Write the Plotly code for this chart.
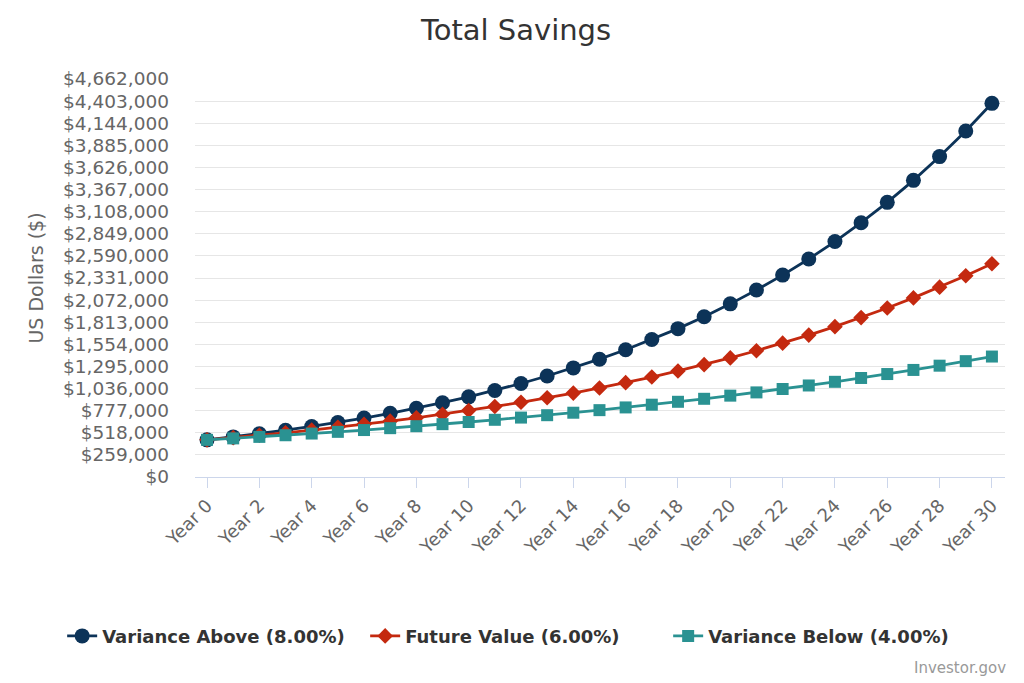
import plotly.graph_objects as go

years = [f"Year {i}" for i in range(31)]

variance_above = [435000, 469800, 507000, 548000, 592000, 639000, 690000, 746000, 805000, 870000,
                  939000, 1014000, 1095000, 1183000, 1278000, 1380000, 1490000, 1610000, 1738000, 1877000,
                  2028000, 2190000, 2365000, 2554000, 2758000, 2979000, 3217000, 3475000, 3753000, 4053000,
                  4377000]
future_value = [435000, 461100, 489000, 518000, 549000, 582000, 617000, 654000, 693000, 735000,
                779000, 826000, 875000, 928000, 983000, 1043000, 1105000, 1171000, 1242000, 1316000,
                1395000, 1479000, 1568000, 1662000, 1761000, 1867000, 1979000, 2098000, 2224000, 2357000,
                2498000]
variance_below = [435000, 452400, 470000, 489000, 509000, 529000, 550000, 572000, 595000, 619000,
                  644000, 670000, 696000, 724000, 753000, 783000, 815000, 847000, 881000, 916000,
                  953000, 991000, 1031000, 1072000, 1115000, 1160000, 1206000, 1254000, 1304000, 1357000,
                  1411000]

y_ticks = [i * 259000 for i in range(19)]
y_ticktext = [f"${v:,}" for v in y_ticks]
x_tickvals = years[::2]

series = [
    ("Variance Above (8.00%)", variance_above, "#0c3358", "circle", 15),
    ("Future Value (6.00%)", future_value, "#c4290f", "diamond", 12),
    ("Variance Below (4.00%)", variance_below, "#2a9292", "square", 12),
]

fig = go.Figure()
for name, vals, color, sym, size in series:
    fig.add_trace(go.Scatter(
        x=years, y=vals, name=name, mode="lines+markers",
        line=dict(color=color, width=2.8),
        marker=dict(symbol=sym, size=size, color=color, line=dict(width=0)),
    ))

fig.update_layout(
    width=1016, height=675,
    paper_bgcolor="white", plot_bgcolor="white",
    margin=dict(l=187, r=19, t=71, b=206, autoexpand=False),
    font=dict(family="DejaVu Sans", color="#666666"),
    title=dict(text="Total Savings", x=0.5, xanchor="center", y=0.967, yanchor="middle",
               font=dict(family="DejaVu Sans", size=29, color="#333333")),
    showlegend=True,
    legend=dict(orientation="h", x=-0.164, xanchor="left", y=-0.4, yanchor="middle",
                font=dict(family="DejaVu Sans", size=18, color="#333333", weight="bold"),
                itemwidth=30, entrywidth=258, traceorder="normal"),
    xaxis=dict(
        type="category", range=[-0.46, 30.5],
        tickmode="array", tickvals=x_tickvals, ticktext=x_tickvals,
        tickangle=-45, tickfont=dict(size=18, color="#666666"),
        showgrid=False, showline=True, linecolor="#ccd6eb", linewidth=1,
        ticks="outside", ticklen=10, tickcolor="#ccd6eb",
        zeroline=False,
    ),
    yaxis=dict(
        range=[0, 4662000], tickmode="array", tickvals=y_ticks, ticktext=y_ticktext,
        tickfont=dict(size=18.5, color="#666666"),
        showgrid=True, gridcolor="#e6e6e6", gridwidth=1,
        zeroline=False, showline=False, ticks="", ticklabelstandoff=25,
        title=dict(text="US Dollars ($)", font=dict(size=19, color="#666666"), standoff=14),
    ),
    annotations=[dict(text="Investor.gov", xref="paper", yref="paper", x=1.0, y=-0.48,
                      xanchor="right", yanchor="middle", showarrow=False, xshift=3,
                      font=dict(family="DejaVu Sans", size=15, color="#999999"))],
)

fig.write_html("out.html")
